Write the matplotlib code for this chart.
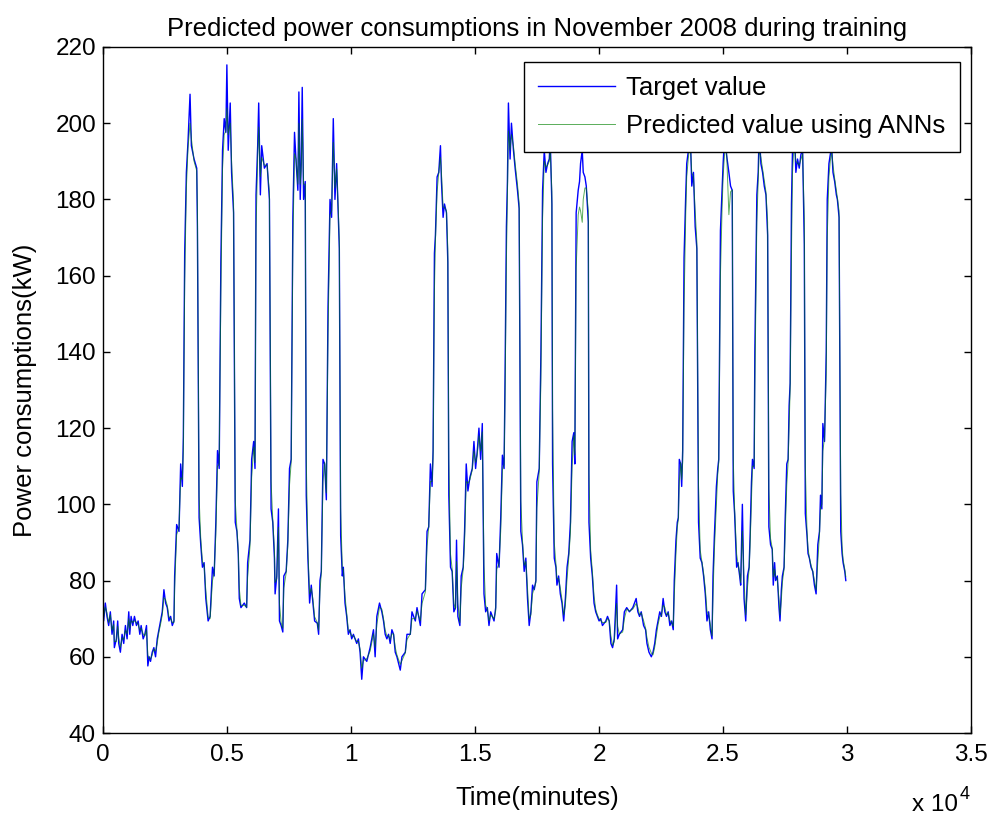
import matplotlib
matplotlib.use("Agg")
import matplotlib.pyplot as plt

plt.rcParams["font.family"] = ["Liberation Sans", "DejaVu Sans"]

# time in minutes, readings in kW
time_min = [
    0, 27, 95, 162, 230, 297, 365, 432, 459, 540, 594, 635, 702, 770, 837, 905, 972,
    1040, 1080, 1134, 1202, 1269, 1350, 1418, 1485, 1539, 1620, 1688, 1755, 1809,
    1863, 1917, 1985, 2052, 2120, 2187, 2255, 2322, 2390, 2457, 2525, 2592, 2660,
    2727, 2795, 2862, 2889, 2970, 3065, 3132, 3200, 3240, 3294, 3362, 3429, 3510,
    3564, 3672, 3780, 3807, 3875, 3942, 4010, 4077, 4145, 4239, 4320, 4415, 4482,
    4550, 4617, 4685, 4752, 4820, 4887, 4955, 4995, 5049, 5130, 5184, 5265, 5333,
    5400, 5454, 5495, 5562, 5697, 5792, 5832, 5927, 5994, 6075, 6129, 6170, 6237,
    6278, 6345, 6399, 6507, 6615, 6710, 6777, 6845, 6912, 6939, 7007, 7074, 7115,
    7182, 7250, 7290, 7385, 7452, 7520, 7587, 7655, 7722, 7790, 7857, 7898, 7952,
    7992, 8033, 8087, 8154, 8195, 8262, 8330, 8397, 8465, 8532, 8640, 8694, 8748,
    8802, 8870, 8937, 9005, 9072, 9153,
    9217, 9285, 9352, 9420, 9487, 9528, 9582, 9649, 9690, 9757, 9825, 9892, 9960,
    10027, 10095, 10230, 10297, 10365, 10432, 10500, 10635, 10770, 10905, 10972,
    11040, 11148, 11242, 11310, 11377, 11445, 11512, 11580, 11647, 11715, 11782,
    11850, 11985, 12052, 12187, 12255, 12390, 12457, 12592, 12660, 12795, 12862,
    12997, 13065, 13132, 13200, 13267, 13308, 13362, 13402, 13470, 13537, 13605,
    13645, 13712, 13767, 13848, 13902, 13942, 14010, 14077, 14145, 14212, 14253,
    14307, 14388, 14442, 14522, 14577, 14644, 14712, 14793, 14887, 14955, 15022,
    15090, 15157, 15225, 15292, 15360, 15427, 15495, 15562, 15630, 15765, 15832,
    15873, 15967, 16035, 16102, 16170, 16210, 16264, 16305, 16345, 16412, 16467,
    16548, 16615, 16710, 16777, 16845, 16912, 16980, 17047, 17115, 17182, 17250,
    17317, 17385, 17452, 17492, 17587, 17655, 17722, 17790, 17857, 17925, 17992,
    18030, 18097, 18125, 18193, 18260, 18301, 18369, 18437, 18505, 18573, 18641,
    18709, 18777, 18845, 18913, 18981, 19022, 19076, 19158, 19212, 19253, 19321,
    19361, 19429, 19484, 19565, 19592, 19660, 19728, 19796, 19864, 19932, 20000,
    20068, 20136, 20272, 20340, 20408, 20476, 20544, 20612, 20707, 20747, 20815,
    20951, 21019, 21114, 21223, 21359, 21495, 21563, 21631, 21699, 21794, 21875,
    21930, 22011, 22106, 22174, 22242, 22310, 22378, 22446, 22514, 22582, 22650,
    22718, 22786, 22854, 22922, 22990, 23031, 23099, 23153, 23194, 23234, 23289,
    23330, 23370, 23425, 23493, 23533, 23601, 23669, 23737, 23805, 23873, 23941,
    24009, 24077, 24145, 24213, 24281, 24349, 24417, 24485, 24553, 24593, 24648,
    24729, 24784, 24824, 24892, 24960, 25001, 25069, 25137, 25232, 25300, 25368,
    25409, 25463, 25545, 25599, 25667, 25708, 25776, 25844, 25912, 25980, 26048,
    26088, 26143, 26183, 26251, 26279, 26360, 26414, 26455, 26523, 26591, 26659,
    26727, 26795,
    26845, 26913, 26981, 27022, 27076, 27117, 27185, 27253, 27294, 27348, 27389,
    27457, 27498, 27566, 27620, 27661, 27702, 27756, 27797, 27865, 27933, 28001,
    28069, 28137, 28205, 28273, 28314, 28382, 28423, 28477, 28545, 28613, 28681,
    28749, 28817, 28885, 28926, 28980, 29021, 29089, 29157, 29198, 29266, 29320,
    29374, 29429, 29497, 29565, 29606, 29674, 29742, 29796, 29837, 29905, 29946,
]

target_kw = [
    72.9, 69.4, 74.1, 70.6, 68.2, 71.8, 65.9, 69.4, 62.4, 64.7, 69.4, 63.5, 61.2, 65.9, 63.5, 68.2, 64.7,
    71.8, 65.9, 70.6, 68.2, 70.6, 68.2, 69.4, 65.9, 68.2, 64.7, 65.9, 68.2, 57.6,
    60.0, 58.8, 61.2, 62.4, 60.0, 64.7, 67.1, 69.4, 71.8, 77.6, 74.1, 72.9, 69.4,
    70.6, 68.2, 69.4, 81.2, 94.7, 92.9, 110.6, 104.7, 117.6, 165.9, 187.1, 195.3, 207.6,
    194.1, 190.6, 188.2, 172.9, 96.5, 89.4, 83.5, 84.7, 75.3, 69.4, 70.6, 83.5, 81.2,
    95.3, 114.1, 109.4, 163.5, 192.9, 201.2, 197.6, 215.3, 192.9, 205.3, 187.1, 176.5, 95.3,
    92.9, 87.1, 75.3, 72.9, 74.1, 72.9, 84.7, 90.6, 111.8, 116.5, 109.4, 181.2, 194.1,
    205.3, 181.2, 194.1, 188.2, 189.4, 180.0, 98.8, 95.3, 85.9, 76.5, 81.2, 98.8, 69.4,
    68.2, 66.5, 81.2, 82.4, 90.6, 109.4, 111.8, 175.3, 197.6, 189.4, 182.4, 208.2, 180.0,
    189.4, 209.4, 180.0, 184.7, 102.4, 85.9, 74.1, 78.8, 74.1, 69.4, 68.8, 65.9, 80.0,
    82.4, 111.8, 110.6, 101.2, 151.8, 180.0,
    175.3, 201.2, 180.0, 189.4, 175.3, 167.1, 91.8, 81.2, 83.5, 74.1, 70.6, 65.9, 67.1,
    64.7, 65.9, 63.5, 64.7, 61.2, 54.1, 60.0, 58.8, 62.4, 67.1, 60.0,
    70.6, 74.1, 71.8, 69.4, 65.9, 64.7, 65.9, 63.5, 67.1, 65.9, 61.2,
    60.0, 56.5, 60.0, 61.2, 65.9, 65.9, 71.8, 69.4, 72.9, 68.2, 76.5,
    77.6, 92.9, 94.1, 110.6, 104.7, 114.1, 165.9, 170.6, 185.9, 187.1, 194.1,
    184.7, 175.3, 178.8, 176.5, 163.5, 102.4, 83.5, 82.4, 71.8, 72.9, 90.6,
    70.6, 68.2, 81.2, 83.5, 92.9, 110.6, 103.5, 107.1, 109.4, 116.5, 109.4,
    114.1, 120.0, 111.8, 121.2, 76.5, 71.8, 72.9, 68.2, 71.8, 69.4, 72.9,
    87.1, 83.5, 96.5, 112.9, 109.4, 134.1, 172.9, 184.7, 205.3, 190.6, 200.0,
    192.9, 188.2, 182.4, 177.6, 92.9, 89.4, 82.4, 85.9, 75.3, 68.2, 71.8,
    78.8, 77.6, 80.0, 105.9, 109.4, 140.0, 182.4, 192.9, 187.1, 189.4, 190.6,
    196.0, 178.8, 110.6, 85.9, 83.5, 78.8, 81.2, 76.5, 74.1, 69.4, 75.3,
    83.5, 87.1, 95.3, 116.5, 118.8, 110.6, 176.5, 182.4, 184.7, 189.4, 192.9,
    187.1, 185.9, 183.5, 174.1, 95.3, 85.9, 81.2, 74.1, 71.8, 70.6, 69.4,
    70.0, 68.2, 69.4, 70.6, 69.4, 63.5, 62.4, 64.7, 78.8, 64.7, 65.9,
    67.1, 71.8, 72.9, 71.8, 72.9, 75.3, 71.8, 70.6, 71.8, 68.2, 67.1,
    63.5, 61.2, 60.0, 61.2, 63.5, 67.1, 69.4, 71.8, 70.6, 75.3, 71.8,
    70.6, 71.8, 68.2, 69.4, 67.1, 80.0, 90.6, 95.3, 96.5, 111.8, 110.6,
    104.7, 114.1, 164.7, 181.2, 189.4, 192.9, 199.0, 183.5, 187.1, 172.9, 167.1,
    95.3, 85.9, 84.7, 81.2, 76.5, 69.4, 71.8, 67.1, 64.7, 81.2, 91.8,
    104.7, 109.4, 111.8, 171.8, 182.4, 189.4, 198.0, 191.8, 187.1, 183.5, 182.4,
    103.5, 97.6, 83.5, 84.7, 81.2, 78.8, 100.0, 75.3, 69.4, 81.2, 83.5,
    91.8, 105.9, 111.8, 109.4, 140.0, 181.2, 187.1, 198.0, 189.4, 187.1, 183.5,
    181.2, 170.6,
    94.1, 89.4, 88.2, 78.8, 84.7, 80.0, 81.2, 72.9, 69.4, 77.6, 81.2,
    83.5, 95.3, 110.6, 111.8, 125.9, 131.8, 178.8, 192.9, 200.0, 187.1, 190.6,
    188.2, 191.8, 192.9, 168.2, 97.6, 91.8, 87.1, 85.9, 83.5, 82.4, 78.8,
    76.5, 89.4, 92.9, 102.4, 98.8, 121.2, 116.5, 140.0, 180.0, 189.4, 191.8,
    194.1, 187.1, 184.7, 181.2, 180.0, 175.3, 92.9, 87.1, 84.7, 82.4, 80.0,
]

predicted_kw = [
    73.5, 70.5, 73.0, 71.5, 69.0, 71.0, 67.0, 68.5, 64.0, 64.0, 68.0, 65.0, 62.5, 65.0, 64.5, 67.0, 66.0,
    70.0, 67.5, 69.5, 69.0, 69.5, 69.0, 68.5, 67.0, 67.5, 66.0, 65.5, 67.0, 60.5,
    59.5, 59.5, 60.5, 62.0, 61.5, 63.5, 66.5, 68.5, 71.0, 75.5, 75.0, 73.5, 70.5,
    70.0, 69.0, 69.0, 78.0, 92.0, 94.0, 107.0, 106.5, 114.0, 158.0, 183.0, 193.5, 200.0,
    196.0, 190.0, 187.5, 178.0, 102.0, 91.0, 85.0, 84.0, 77.5, 70.5, 70.0, 80.0, 82.0,
    92.0, 110.0, 110.5, 155.0, 188.0, 197.0, 198.0, 204.0, 197.0, 200.0, 190.0, 179.0, 101.0,
    93.5, 88.0, 78.0, 73.5, 73.5, 73.0, 81.0, 89.0, 107.0, 115.0, 111.0, 172.0, 191.0,
    199.0, 186.0, 191.0, 189.0, 189.0, 182.0, 106.0, 96.0, 88.0, 79.5, 80.5, 94.0, 74.0,
    69.0, 67.5, 78.0, 82.0, 89.0, 105.0, 111.0, 168.0, 192.0, 190.5, 184.0, 200.0, 184.0,
    188.0, 201.0, 184.0, 184.0, 112.0, 88.0, 76.5, 78.0, 75.0, 70.5, 69.0, 67.0, 77.0,
    82.0, 106.0, 111.0, 103.0, 144.0, 176.0,
    177.0, 195.0, 183.0, 188.0, 177.5, 169.0, 99.0, 83.0, 83.0, 76.0, 71.5, 67.0, 66.5,
    65.5, 65.5, 64.0, 64.0, 62.0, 57.0, 59.0, 59.5, 61.5, 66.0, 62.5,
    68.5, 73.0, 72.5, 70.0, 67.0, 65.5, 65.5, 64.5, 66.0, 66.0, 62.5,
    60.5, 58.0, 59.0, 61.0, 64.5, 66.0, 70.0, 70.0, 72.0, 69.5, 74.0,
    77.0, 89.0, 94.0, 106.0, 106.0, 112.0, 156.0, 169.0, 182.0, 187.0, 191.0,
    187.0, 178.0, 178.0, 177.0, 167.0, 112.0, 87.0, 83.0, 74.0, 72.5, 85.0,
    74.0, 69.0, 78.0, 83.0, 90.0, 106.0, 105.5, 106.5, 109.0, 114.0, 111.0,
    113.0, 118.0, 114.0, 119.0, 84.0, 73.5, 72.5, 69.5, 71.0, 70.0, 72.0,
    83.0, 84.5, 93.0, 109.0, 110.5, 128.0, 164.0, 181.0, 198.0, 193.0, 197.0,
    194.0, 189.5, 184.0, 179.0, 101.0, 90.5, 84.0, 85.0, 78.0, 70.0, 71.0,
    76.5, 78.0, 79.5, 99.0, 108.5, 133.0, 175.0, 190.0, 188.5, 189.0, 190.0,
    193.0, 182.0, 125.0, 90.0, 84.5, 80.5, 80.5, 78.0, 75.0, 71.0, 73.5,
    80.5, 86.0, 92.5, 110.0, 118.0, 113.0, 162.0, 176.0, 178.0, 177.0, 174.0,
    180.0, 183.0, 183.0, 177.0, 108.0, 88.0, 82.5, 76.0, 72.5, 71.0, 70.0,
    69.5, 69.0, 69.0, 70.0, 69.5, 65.5, 63.0, 64.0, 74.0, 68.0, 66.0,
    66.5, 70.0, 72.5, 72.0, 72.5, 74.0, 73.0, 71.0, 71.5, 69.5, 67.5,
    65.0, 62.5, 61.0, 60.5, 62.5, 65.5, 68.5, 70.5, 71.0, 73.5, 73.0,
    71.0, 71.5, 69.5, 69.0, 68.0, 76.0, 87.0, 94.0, 96.0, 106.0, 111.0,
    106.5, 111.0, 152.0, 176.0, 186.0, 191.0, 195.0, 187.0, 186.0, 177.0, 169.0,
    105.0, 88.0, 85.0, 82.0, 78.0, 72.0, 71.0, 68.5, 65.5, 76.0, 88.0,
    100.0, 108.0, 111.0, 160.0, 178.0, 186.0, 193.0, 193.0, 176.0, 182.0, 182.5,
    112.0, 99.0, 87.0, 84.5, 82.0, 79.5, 93.0, 80.0, 71.0, 78.0, 83.0,
    89.0, 101.0, 110.0, 110.0, 130.0, 174.0, 185.0, 193.0, 191.0, 188.0, 185.0,
    182.0, 174.0,
    104.0, 91.0, 88.5, 81.0, 83.0, 81.0, 80.5, 75.0, 71.0, 75.0, 79.5,
    83.0, 91.0, 105.0, 111.0, 121.0, 130.0, 166.0, 187.0, 195.0, 190.0, 189.5,
    189.0, 190.5, 192.0, 175.0, 110.0, 93.0, 88.5, 86.0, 84.0, 82.5, 80.0,
    77.5, 85.0, 92.0, 99.0, 100.0, 114.0, 117.5, 134.0, 170.0, 186.0, 190.0,
    192.5, 189.0, 185.5, 182.5, 180.5, 177.0, 103.0, 89.0, 85.5, 83.0, 81.0,
]

x_ticks = [0, 5000, 10000, 15000, 20000, 25000, 30000, 35000]
x_tick_labels = ["0", "0.5", "1", "1.5", "2", "2.5", "3", "3.5"]
y_ticks = list(range(40, 221, 20))

fig = plt.figure(figsize=(9.92, 8.17), dpi=100)
ax = fig.add_axes([0.1038, 0.1028, 0.8752, 0.8397])

ax.plot(time_min, target_kw, color="#0000ff", linewidth=1.0, label="Target value")
ax.plot(time_min, predicted_kw, color="#008000", linewidth=0.7, alpha=0.65,
        label="Predicted value using ANNs")

ax.set_xlim(0, 35000)
ax.set_ylim(40, 220)
ax.set_xticks(x_ticks)
ax.set_xticklabels(x_tick_labels)
ax.set_yticks(y_ticks)
ax.tick_params(direction="in", top=True, right=True, length=5, width=1,
               labelsize=17.5)
ax.tick_params(axis="x", pad=8)
ax.tick_params(axis="y", pad=5)
for side in ax.spines.values():
    side.set_linewidth(1.0)

ax.set_title("Predicted power consumptions in November 2008 during training",
             fontsize=18.5, pad=8)
ax.set_xlabel("Time(minutes)", fontsize=18.5, labelpad=14)
ax.set_ylabel("Power consumptions(kW)", fontsize=18.5, labelpad=13)

ax.text(0.932, -0.105, "x 10", transform=ax.transAxes, fontsize=17.5,
        ha="left", va="center")
ax.text(0.987, -0.089, "4", transform=ax.transAxes, fontsize=13,
        ha="left", va="center")

leg = ax.legend(loc="upper right", bbox_to_anchor=(0.987, 0.978),
                fontsize=18.5, frameon=True, fancybox=False, framealpha=1,
                edgecolor="black", handlelength=3.0, borderaxespad=0,
                borderpad=0.55, labelspacing=0.55, handletextpad=0.45)
leg.get_frame().set_linewidth(1.0)

fig.savefig("out.png", dpi=100)
